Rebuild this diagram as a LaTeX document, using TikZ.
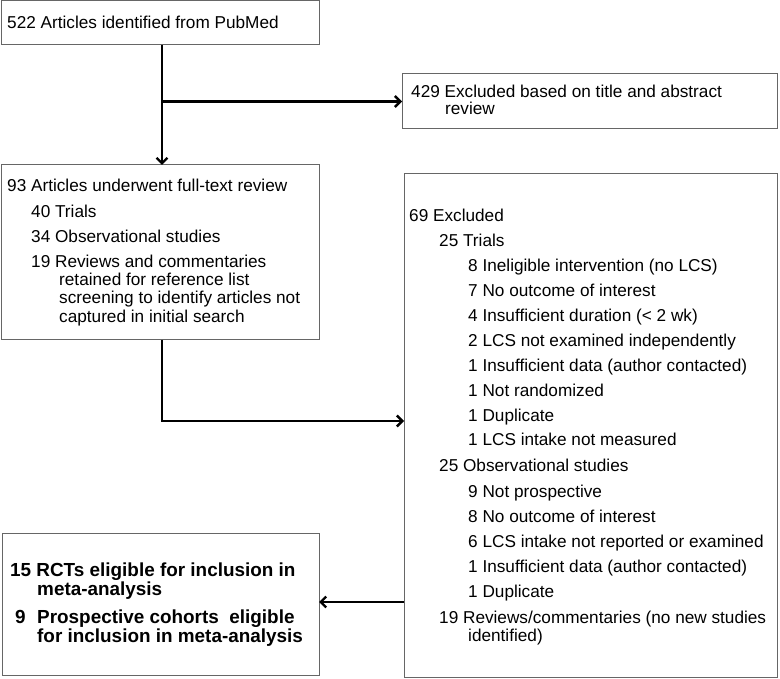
\documentclass[tikz,border=0pt]{standalone}
\usepackage{fontspec}
\setmainfont{Liberation Sans}
\usetikzlibrary{arrows.meta}

\tikzset{box/.style={draw=black!60, line width=1pt, inner sep=0pt, outer sep=0pt},
         txt/.style={anchor=base west, inner sep=0pt, font=\fontsize{17.2}{18}\selectfont},
         btxt/.style={txt, font=\fontsize{18.9}{19}\selectfont\bfseries},
         arr/.style={line width=2.6pt, -{Straight Barb[length=5.5pt,width=11pt,line width=2.4pt]}}}

\begin{document}
\begin{tikzpicture}[x=1pt,y=-1pt]

\useasboundingbox (0,0) rectangle (780,679);

% boxes
\node[box, minimum width=318pt, minimum height=44pt]  (src)   at (160,23)      {};
\node[box, minimum width=375pt, minimum height=55pt]  (excl1) at (589.5,101.5) {};
\node[box, minimum width=318pt, minimum height=175pt] (full)  at (160,252.5)   {};
\node[box, minimum width=373pt, minimum height=503pt] (excl2) at (590.5,425.5) {};
\node[box, minimum width=317pt, minimum height=142pt] (incl)  at (160.5,604)   {};

% text of the boxes
\node[txt] (srcA) at (7,29) {522 Articles identified from PubMed};

\node[txt] (exA) at (411,98)  {429 Excluded based on title and abstract};
\node[txt] (exB) at (445,115) {review};

\node[txt] (fuA) at (7,192)  {93 Articles underwent full-text review};
\node[txt] (fuB) at (31,218) {40 Trials};
\node[txt] (fuC) at (31,243) {34 Observational studies};
\node[txt] (fuD) at (31,268) {19 Reviews and commentaries};
\node[txt] (fuE) at (59,286) {retained for reference list};
\node[txt] (fuF) at (59,304) {screening to identify articles not};
\node[txt] (fuG) at (59,323) {captured in initial search};

\node[txt] (e0)  at (409,222) {69 Excluded};
\node[txt] (e1)  at (439,247) {25 Trials};
\node[txt] (e2)  at (468,272) {8 Ineligible intervention (no LCS)};
\node[txt] (e3)  at (468,297) {7 No outcome of interest};
\node[txt] (e4)  at (468,322) {4 Insufficient duration (< 2 wk)};
\node[txt] (e5)  at (468,347) {2 LCS not examined independently};
\node[txt] (e6)  at (468,371) {1 Insufficient data (author contacted)};
\node[txt] (e7)  at (468,396) {1 Not randomized};
\node[txt] (e8)  at (468,421) {1 Duplicate};
\node[txt] (e9)  at (468,446) {1 LCS intake not measured};
\node[txt] (e10) at (439,471) {25 Observational studies};
\node[txt] (e11) at (468,497) {9 Not prospective};
\node[txt] (e12) at (468,522) {8 No outcome of interest};
\node[txt] (e13) at (468,547) {6 LCS intake not reported or examined};
\node[txt] (e14) at (468,572) {1 Insufficient data (author contacted)};
\node[txt] (e15) at (468,597) {1 Duplicate};
\node[txt] (e16) at (439,623) {19 Reviews/commentaries (no new studies};
\node[txt] (e17) at (468,641) {identified)};

\node[btxt] (inA) at (10,576) {15 RCTs eligible for inclusion in};
\node[btxt] (inB) at (37,595) {meta-analysis};
\node[btxt] (inC) at (15,623) {9};
\node[btxt] (inD) at (37,623) {Prospective cohorts\ \ eligible};
\node[btxt] (inE) at (37,642) {for inclusion in meta-analysis};

% arrows
\draw[arr] ([xshift=2pt]src.south) -- ([xshift=2pt]full.north);
\draw[arr] ([xshift=2pt]src.south |- excl1.west) -- (excl1.west);
\draw[arr] ([xshift=2pt]full.south) |- ([yshift=4.5pt]excl2.west);
\draw[arr] ([yshift=2pt]excl2.west |- incl.east) -- ([yshift=2pt]incl.east);

\end{tikzpicture}
\end{document}
